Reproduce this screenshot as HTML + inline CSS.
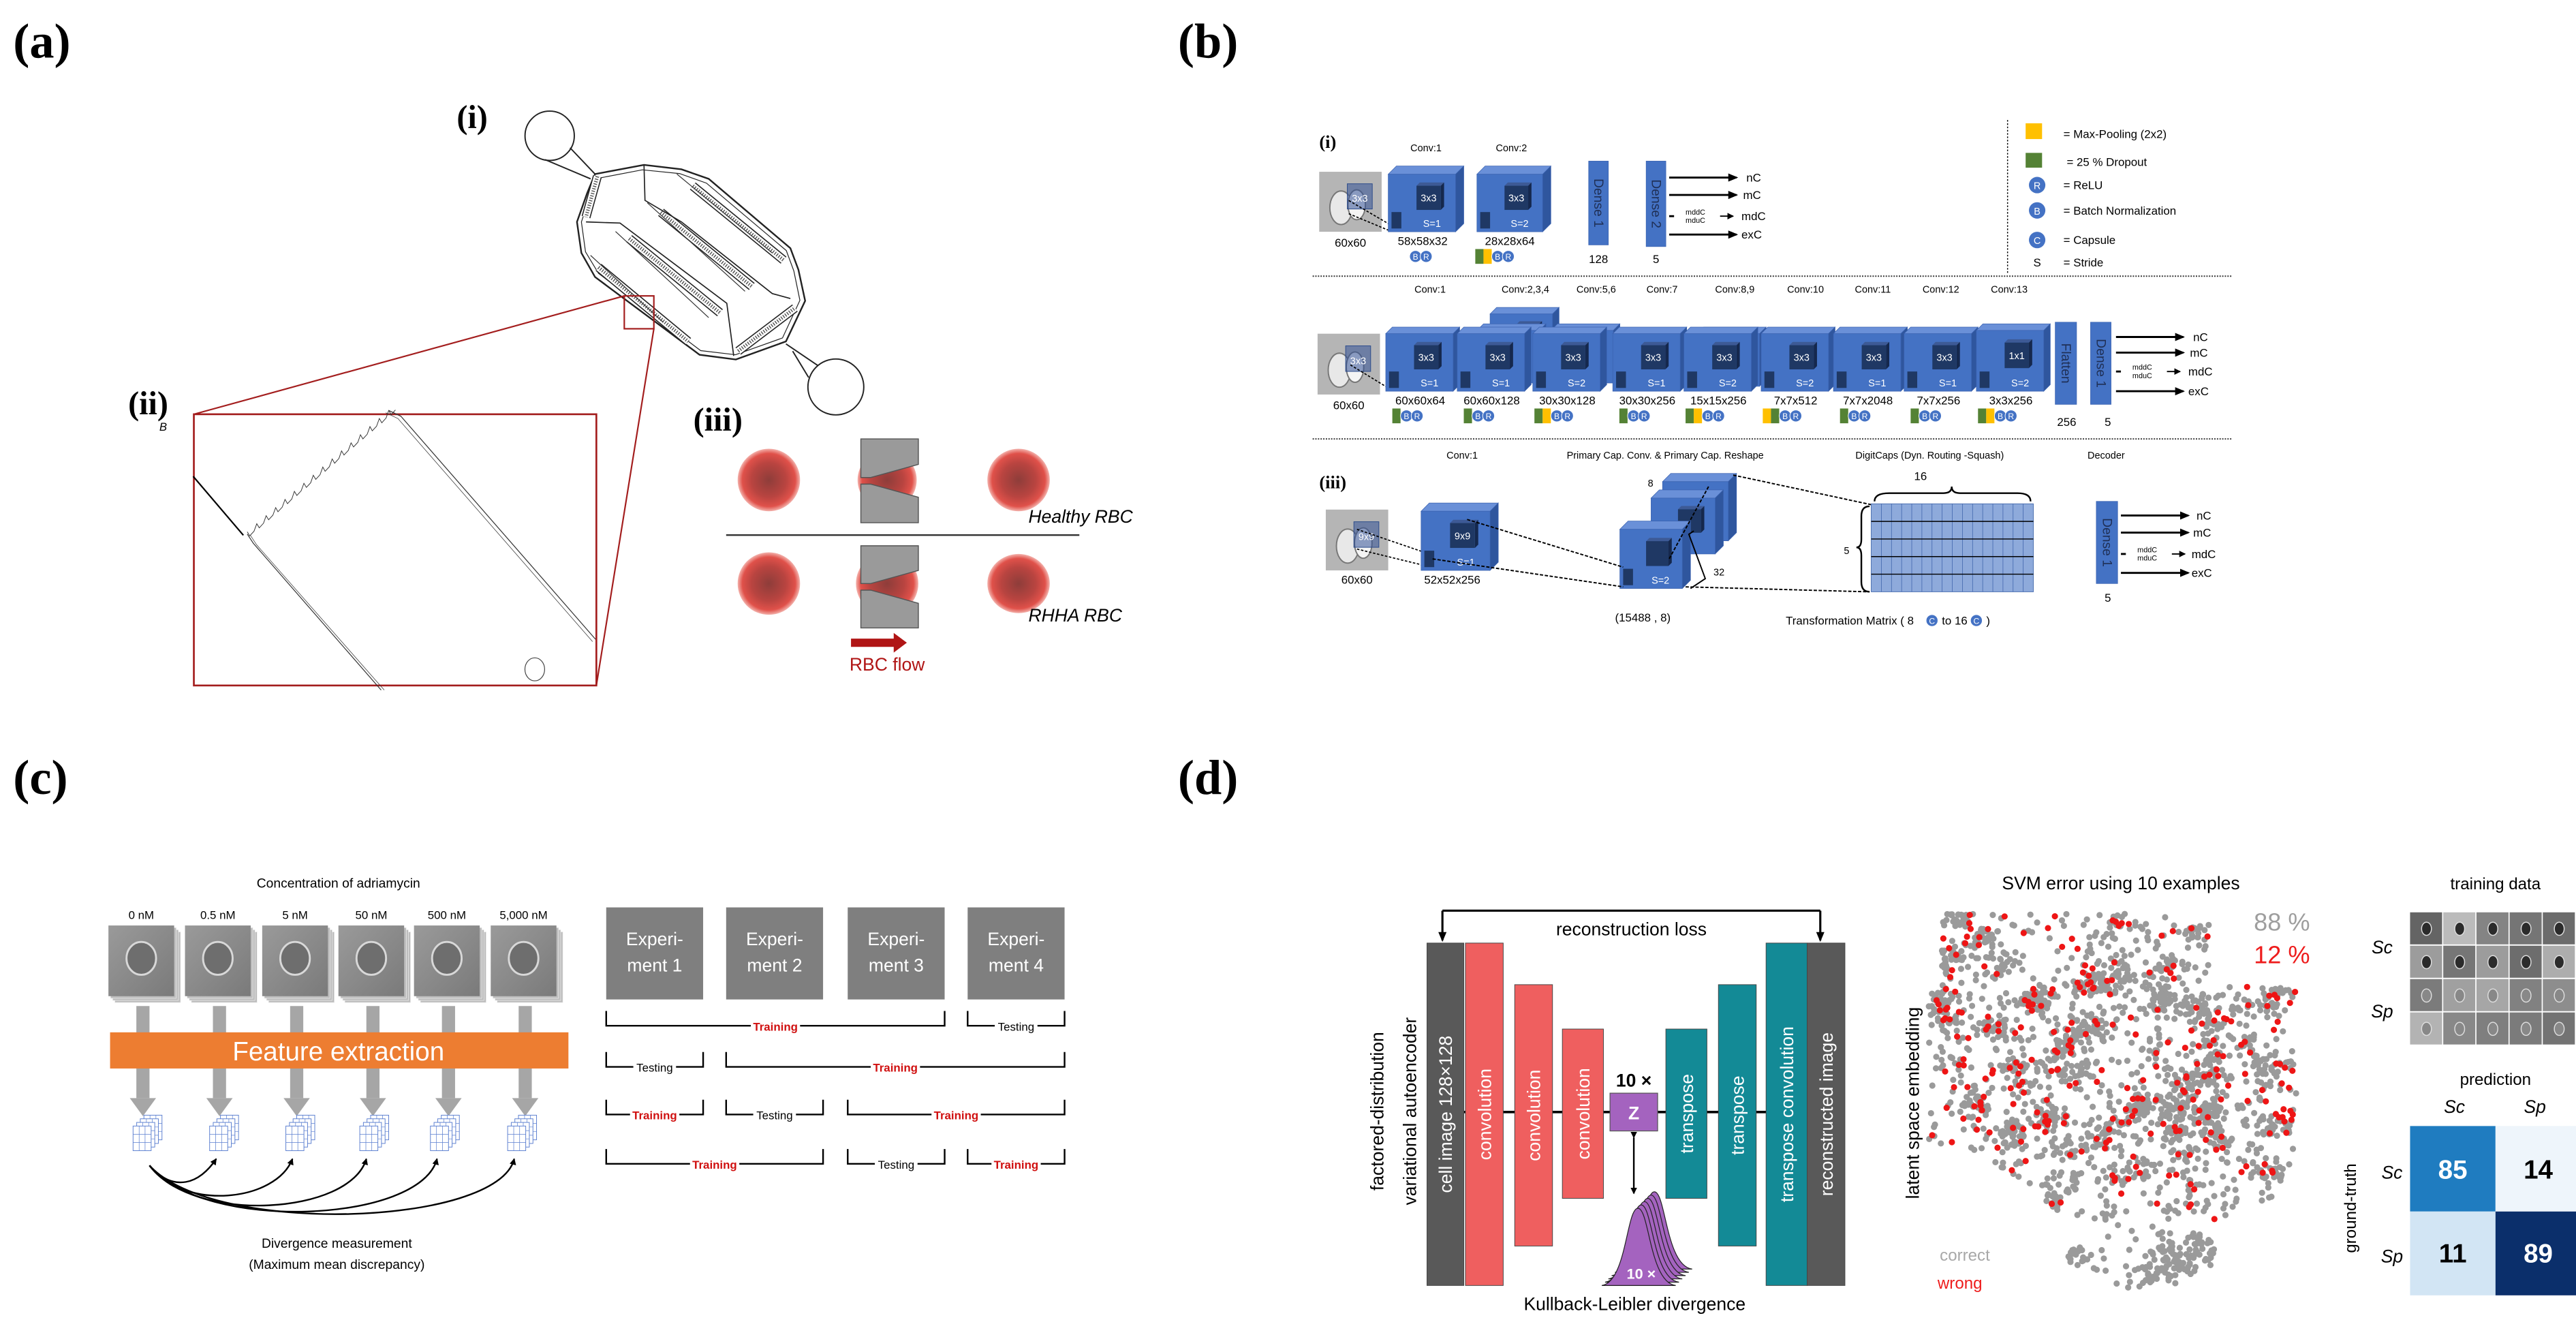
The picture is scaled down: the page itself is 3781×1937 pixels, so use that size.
<!DOCTYPE html>
<html><head><meta charset="utf-8">
<style>
html,body{margin:0;padding:0;background:#fff;}
svg{display:block;}
text{font-family:"Liberation Sans",sans-serif;}
.nar{font-family:"Liberation Sans Narrow","Liberation Sans",sans-serif;}
.ser{font-family:"Liberation Serif",serif;font-weight:bold;}
</style></head>
<body>
<svg id="s" xmlns="http://www.w3.org/2000/svg" width="3781" height="1937" viewBox="0 0 1568 803" preserveAspectRatio="none">
<defs>
<radialGradient id="rbc" cx="50%" cy="50%" r="50%">
<stop offset="0" stop-color="#8e3d3a"/><stop offset="0.55" stop-color="#b94440"/><stop offset="0.85" stop-color="#e0514a"/><stop offset="1" stop-color="#f3b2ac"/>
</radialGradient>
<linearGradient id="cellbg" x1="0" y1="0" x2="1" y2="1"><stop offset="0" stop-color="#9a9a9a"/><stop offset="1" stop-color="#7a7a7a"/></linearGradient>
<marker id="ah" markerWidth="6" markerHeight="6" refX="5" refY="3" orient="auto" markerUnits="userSpaceOnUse"><path d="M0,0.5 L6,3 L0,5.5 z" fill="#000"/></marker>
<marker id="ahs" markerWidth="4" markerHeight="4" refX="3.5" refY="2" orient="auto" markerUnits="userSpaceOnUse"><path d="M0,0 L4,2 L0,4 z" fill="#000"/></marker>
</defs>
<text class="ser" x="8" y="35" font-size="30">(a)</text>
<text class="ser" x="717" y="35" font-size="30">(b)</text>
<text class="ser" x="8" y="483" font-size="30">(c)</text>
<text class="ser" x="717" y="483" font-size="30">(d)</text>
</svg>
<script>
(function(){
var S=document.getElementById('s');var h='';
function T(x,y,s,fs,o){o=o||{};h+='<text x="'+x+'" y="'+y+'" font-size="'+fs+'"'+(o.a?' text-anchor="'+o.a+'"':'')+(o.f?' fill="'+o.f+'"':'')+(o.c?' class="'+o.c+'"':'')+(o.w?' font-weight="'+o.w+'"':'')+(o.i?' font-style="italic"':'')+(o.t?' transform="'+o.t+'"':'')+'>'+s+'</text>';}
function R(x,y,w,hh,f,st,sw){h+='<rect x="'+x+'" y="'+y+'" width="'+w+'" height="'+hh+'" fill="'+f+'"'+(st?' stroke="'+st+'" stroke-width="'+(sw||0.5)+'"':'')+'/>';}
function L(x1,y1,x2,y2,st,sw,ex){h+='<line x1="'+x1+'" y1="'+y1+'" x2="'+x2+'" y2="'+y2+'" stroke="'+(st||'#000')+'" stroke-width="'+(sw||1)+'" '+(ex||'')+'/>';}
function P(pts,f,st,sw,ex){h+='<polygon points="'+pts.map(function(p){return p[0].toFixed(1)+','+p[1].toFixed(1)}).join(' ')+'" fill="'+f+'"'+(st?' stroke="'+st+'" stroke-width="'+(sw||0.5)+'"':'')+' '+(ex||'')+'/>';}
function PL(pts,st,sw,ex){h+='<polyline points="'+pts.map(function(p){return p[0].toFixed(1)+','+p[1].toFixed(1)}).join(' ')+'" fill="none" stroke="'+st+'" stroke-width="'+sw+'" '+(ex||'')+'/>';}
var seed=7;function rnd(){seed=(seed*16807)%2147483647;return seed/2147483647;}
function gs(){return (rnd()+rnd()+rnd()-1.5)/1.5;}

/* ---------- PANEL A ---------- */
function z5(a){return [(800+a[0]/3)/2.411,(150+a[1]/2.85)/2.411];}
function z7(a){return [(200+a[0]/2.24)/2.411,(580+a[1]/2.95)/2.411];}
T(278,78,'(i)',20,{c:'ser'});
var chip=[[220,300],[435,262],[600,280],[720,320],[1080,610],[1115,700],[1145,830],[1060,1000],[840,1075],[680,1055],[220,730],[160,630],[140,500],[185,380]].map(z5);
P(chip,'none','#222',1.0);
P([[232,318],[428,282],[592,298],[710,338],[1062,620],[1095,705],[1122,828],[1045,985],[838,1055],[685,1038],[235,715],[178,625],[160,500],[200,385]].map(z5),'none','#222',0.5);
var st=[[[650,350],[1050,660]],[[510,460],[910,770]],[[370,570],[770,880]],[[235,690],[630,1000]],[[230,310],[180,480]],[[850,1040],[1100,860]]];
st.forEach(function(s){var a=z5(s[0]),b=z5(s[1]);L(a[0],a[1],b[0],b[1],'#222',5.5);L(a[0],a[1],b[0],b[1],'#fff',4.2);L(a[0],a[1],b[0],b[1],'#555',2.2,'stroke-dasharray="0.6,0.9"');});
[[[580,300],[1000,630]],[[450,420],[880,790]],[[310,540],[720,900]],[[200,640],[520,920]]].forEach(function(s){var a=z5(s[0]),b=z5(s[1]);L(a[0],a[1],b[0],b[1],'#333',0.5);});
PL([[435,262],[440,410],[600,500],[1000,800],[1080,820]].map(z5),'#222',0.7);
PL([[180,500],[330,505],[800,840],[830,1060]].map(z5),'#222',0.7);
var c1=z5([20,140]);h+='<circle cx="'+c1[0]+'" cy="'+c1[1]+'" r="15" fill="none" stroke="#222" stroke-width="0.8"/>';
var c2=z5([1280,1190]);h+='<circle cx="'+c2[0]+'" cy="'+c2[1]+'" r="17" fill="none" stroke="#222" stroke-width="0.8"/>';
PL([[110,190],[220,300]].map(z5),'#222',0.8);PL([[0,240],[200,320]].map(z5),'#222',0.8);
PL([[1060,1010],[1200,1100]].map(z5),'#222',0.8);PL([[1090,1040],[1160,1150]].map(z5),'#222',0.8);
R(380,180,18,20,'none','#a31d1d',0.9);
L(380,180,118,252,'#a31d1d',0.9);L(398,200,363,417,'#a31d1d',0.9);
R(118,252,245,165,'none','#a31d1d',1.1);
T(78,252,'(ii)',20,{c:'ser'});T(97,262,'B',7,{i:1});
var a1=z7([187,350]),a2=z7([352,605]);L(a1[0],a1[1],a2[0],a2[1],'#000',0.9);
var tp=[];for(var i=0;i<=15;i++){var t=i/15;var x=365+t*(830-365),y=590+t*(65-590);tp.push([x,y]);tp.push([x+8,y+18]);tp.push([x+22,y-2]);}
PL(tp.map(z7),'#333',0.4);
PL([[830,65],[870,90],[1510,1055]].map(z7),'#333',0.5);PL([[820,75],[860,100],[1500,1065]].map(z7),'#333',0.3);
PL([[365,600],[385,640],[805,1275]].map(z7),'#333',0.5);PL([[375,605],[395,645],[815,1275]].map(z7),'#333',0.3);
var oc=z7([1310,1185]);h+='<ellipse cx="'+oc[0]+'" cy="'+oc[1]+'" rx="6" ry="7" fill="none" stroke="#444" stroke-width="0.5"/>';
T(422,262,'(iii)',20,{c:'ser'});
[[468,292],[620,292],[468,355],[540,355]].forEach(function(p){h+='<circle cx="'+p[0]+'" cy="'+p[1]+'" r="19" fill="url(#rbc)"/>';});
h+='<ellipse cx="620" cy="355" rx="19" ry="18" fill="url(#rbc)"/>';
h+='<circle cx="540" cy="292" r="18" fill="url(#rbc)"/>';
[[267,318],[332,382]].forEach(function(r){var y0=r[0],y1=r[1],m=(y0+y1)/2;
P([[524,y0],[559,y0],[559,m-10],[530,m-2],[524,m-2]],'#9a9a9a','#555',0.6);
P([[524,m+2],[530,m+2],[559,m+10],[559,y1],[524,y1]],'#9a9a9a','#555',0.6);});
L(442,325.5,657,325.5,'#333',1);
T(626,318,'Healthy RBC',11,{i:1,c:'nar'});T(626,378,'RHHA RBC',11,{i:1,c:'nar'});
P([[518,388.5],[544,388.5],[544,385],[552,391],[544,397],[544,393.5],[518,393.5]],'#b01515');
T(540,408,'RBC flow',11,{a:'middle',f:'#b01515',c:'nar'});

/* ---------- PANEL B ---------- */
var BL='#4472c4',BT='#6a90d8',BS='#2f569e',DK='#1f3864';
function box(x,y,w,hh,d,lab,s){
 P([[x,y],[x+d,y-d],[x+w+d,y-d],[x+w,y]],BT,'#3a62b0',0.3);
 P([[x+w,y],[x+w+d,y-d],[x+w+d,y+hh-d],[x+w,y+hh]],BS,'#3a62b0',0.3);
 R(x,y,w,hh,BL,'#3a62b0',0.3);
 var ix=x+w*0.42,iy=y+hh*0.2,iw=w*0.36,ih=hh*0.42;
 P([[ix,iy],[ix+2,iy-2],[ix+iw+2,iy-2],[ix+iw,iy]],'#3d5a96');
 P([[ix+iw,iy],[ix+iw+2,iy-2],[ix+iw+2,iy+ih-2],[ix+iw,iy+ih]],'#15284d');
 R(ix,iy,iw,ih,DK);
 T(ix+iw/2,iy+ih*0.65,lab,6,{a:'middle',f:'#fff',c:'nar'});
 R(x+2,y+hh-12,6,10,DK);
 if(s)T(x+w*0.65,y+hh-3,s,6,{a:'middle',f:'#fff',c:'nar'});
}
function bar(x,y,w,hh,lab){R(x,y,w,hh,BL,'#3a62b0',0.3);T(0,0,lab,8,{t:'translate('+(x+w/2-2.5)+','+(y+hh/2)+') rotate(90)',a:'middle',c:'nar',f:'#1f2f55'});}
function circ(x,y,l){h+='<circle cx="'+x+'" cy="'+y+'" r="3.6" fill="'+BL+'" stroke="#fff" stroke-width="0.4"/>';T(x,y+2,l,5,{a:'middle',f:'#fff',c:'nar'});}
function tags(x,y,arr){arr.forEach(function(t){if(t=='g'){R(x,y-4.5,5,9,'#548235');x+=5;}else if(t=='y'){R(x,y-4.5,5,9,'#ffc000');x+=5;}else{circ(x+3.6,y,t);x+=6.5;}});}
function img(x,y,w,hh,lab){R(x,y,w,hh,'#b5b5b5');h+='<ellipse cx="'+(x+w*0.35)+'" cy="'+(y+hh*0.6)+'" rx="'+(w*0.18)+'" ry="'+(hh*0.28)+'" fill="#e8e8e8" stroke="#777" stroke-width="0.8"/>';h+='<ellipse cx="'+(x+w*0.6)+'" cy="'+(y+hh*0.55)+'" rx="'+(w*0.14)+'" ry="'+(hh*0.25)+'" fill="#f4f4f4" stroke="#777" stroke-width="0.8"/>';
 R(x+w*0.45,y+hh*0.2,w*0.4,hh*0.42,'rgba(50,80,150,0.55)','#2a4a8a',0.4);T(x+w*0.65,y+hh*0.5,lab,6,{a:'middle',f:'#fff',c:'nar'});}
function arrows(x1,x2,ys,lx){L(x1,ys[0],x2,ys[0],'#000',1.2,'marker-end="url(#ah)"');L(x1,ys[1],x2,ys[1],'#000',1.2,'marker-end="url(#ah)"');L(x1,ys[3],x2,ys[3],'#000',1.2,'marker-end="url(#ah)"');
 L(x1,ys[2],x1+3,ys[2],'#000',1.2);T(x1+10,ys[2]-1,'mddC',4.5,{c:'nar'});T(x1+10,ys[2]+4,'mduC',4.5,{c:'nar'});L(x2-10,ys[2],x2-2,ys[2],'#000',0.8,'marker-end="url(#ahs)"');
 T(lx,ys[0]+2.5,'nC',7,{c:'nar'});T(lx-2,ys[1]+2.5,'mC',7,{c:'nar'});T(lx-3,ys[2]+2.5,'mdC',7,{c:'nar'});T(lx-3,ys[3]+2.5,'exC',7,{c:'nar'});}
T(803,90,'(i)',11,{c:'ser'});
img(803,104.5,38,36.5,'3x3');
L(821,122,845,136,'#000',0.7,'stroke-dasharray="1.5,1"');L(821,130,845,140,'#000',0.7,'stroke-dasharray="1.5,1"');
box(845,106,41,35,5,'3x3','S=1');box(899,106,40,35,5,'3x3','S=2');
T(868,92,'Conv:1',6,{a:'middle',c:'nar'});T(920,92,'Conv:2',6,{a:'middle',c:'nar'});
bar(967,98,12,51,'Dense 1');bar(1002,98,12,52,'Dense 2');
arrows(1016,1057,[108,118.6,131.5,142.7],1063);
T(822,150,'60x60',7,{a:'middle',c:'nar'});T(866,149,'58x58x32',7,{a:'middle',c:'nar'});T(919,149,'28x28x64',7,{a:'middle',c:'nar'});
tags(858,156,['B','R']);tags(898,156,['g','y','B','R']);
T(973,160,'128',7,{a:'middle',c:'nar'});T(1008,160,'5',7,{a:'middle',c:'nar'});
L(1222,73,1222,166,'#000',0.6,'stroke-dasharray="1,1"');
R(1233,75,10,9.6,'#ffc000');T(1256,84,'= Max-Pooling (2x2)',7,{c:'nar'});
R(1233,93,10,9,'#548235');T(1258,101,'= 25 % Dropout',7,{c:'nar'});
[[112.6,'R','= ReLU'],[128,'B','= Batch Normalization'],[146,'C','= Capsule']].forEach(function(q){h+='<circle cx="1240" cy="'+q[0]+'" r="5" fill="'+BL+'"/>';T(1240,q[0]+2.5,q[1],6,{a:'middle',f:'#fff',c:'nar'});T(1256,q[0]+2.5,q[2],7,{c:'nar'});});
T(1240,162,'S',7,{a:'middle',c:'nar'});T(1256,162,'= Stride',7,{c:'nar'});
L(799,168,1359,168,'#333',0.8,'stroke-dasharray="0.8,0.8"');
T(803,222,'(ii)',11,{c:'ser'});
img(802,203,38,37,'3x3');
L(822,222,845,236,'#000',0.7,'stroke-dasharray="1.5,1"');
var bx=[[843.5,'3x3','S=1'],[887,'3x3','S=1'],[933,'3x3','S=2'],[981.7,'3x3','S=1'],[1025,'3x3','S=2'],[1072,'3x3','S=2'],[1116,'3x3','S=1'],[1159,'3x3','S=1'],[1203,'1x1','S=2']];
box(907,191,38,32,4,'','');box(899,201,38,32,4,'','');box(944,201,38,32,4,'','');box(1033,203,38,32,4,'','');
bx.forEach(function(b,i){box(b[0],(i==8?201:203),41,(i==8?37:35),4,b[1],b[2]);});
var cl=[[870.5,'Conv:1'],[928.5,'Conv:2,3,4'],[971.6,'Conv:5,6'],[1011.7,'Conv:7'],[1056,'Conv:8,9'],[1099,'Conv:10'],[1140,'Conv:11'],[1181.4,'Conv:12'],[1223,'Conv:13']];
cl.forEach(function(c){T(c[0],178,c[1],6,{a:'middle',c:'nar'});});
bar(1251,196,13,50,'Flatten');bar(1272.5,196,12.5,50,'Dense 1');
arrows(1288,1329,[205,214.5,226,238],1335);
T(821,249,'60x60',7,{a:'middle',c:'nar'});
var sz=['60x60x64','60x60x128','30x30x128','30x30x256','15x15x256','7x7x512','7x7x2048','7x7x256','3x3x256'];
var tg=[['g','B','R'],['g','B','R'],['g','y','B','R'],['g','B','R'],['g','y','B','R'],['y','g','B','R'],['g','B','R'],['g','B','R'],['g','y','B','R']];
bx.forEach(function(b,i){T(b[0]+21,246,sz[i],7,{a:'middle',c:'nar'});tags(b[0]+(tg[i].length==4?1:4),253,tg[i]);});
T(1258,259,'256',7,{a:'middle',c:'nar'});T(1283,259,'5',7,{a:'middle',c:'nar'});
L(799,267,1359,267,'#333',0.8,'stroke-dasharray="0.8,0.8"');
T(803,297,'(iii)',11,{c:'ser'});
T(890,279,'Conv:1',6,{a:'middle',c:'nar'});
T(1013.6,279,'Primary Cap. Conv.  &  Primary Cap. Reshape',6,{a:'middle',c:'nar'});
T(1174.6,279,'DigitCaps (Dyn. Routing -Squash)',6,{a:'middle',c:'nar'});
T(1282,279,'Decoder',6,{a:'middle',c:'nar'});
img(807,310,38,37,'9x9');
L(826,322,867,336,'#000',0.7,'stroke-dasharray="1.5,1"');L(826,334,867,344,'#000',0.7,'stroke-dasharray="1.5,1"');
box(865,311,42,36,5,'9x9','S=1');
T(826,355,'60x60',7,{a:'middle',c:'nar'});T(884,355,'52x52x256',7,{a:'middle',c:'nar'});
box(1012,293,40,36,5,'','');box(1005,303,39,34,5,'','');box(986,322,38,36,5,'','S=2');
L(893,316,988,345,'#000',0.8,'stroke-dasharray="2,1"');L(872,340,988,357,'#000',0.8,'stroke-dasharray="2,1"');
L(1040,296,1016,340,'#000',0.8,'stroke-dasharray="2,1"');
L(1055,289,1139,307,'#000',0.8,'stroke-dasharray="2,1"');L(1026,357,1137,360,'#000',0.8,'stroke-dasharray="2,1"');
T(1003,296,'8',6,{c:'nar'});T(1043,350,'32',6,{c:'nar'});
PL([[1029,358],[1038,352],[1028,325],[1031,323]],'#000',0.8);
R(1139,306.5,98.7,53.5,'#8eaadb','#4a6fb0',0.4);
for(var i=1;i<16;i++){var x=1139+i*98.7/16;L(x,306.5,x,360,'#3a5fa8',0.3);}
for(var j=1;j<5;j++){var y=306.5+j*53.5/5;L(1139,y,1237.7,y,'#000',0.6);}
h+='<path d="M1141,305 Q1141,300 1150,300 L1183,300 Q1188,300 1188,296 Q1188,300 1193,300 L1228,300 Q1236,300 1236,305" fill="none" stroke="#000" stroke-width="1"/>';
h+='<path d="M1138,308 Q1133,308 1133,314 L1133,328 Q1133,333 1130,333 Q1133,333 1133,338 L1133,354 Q1133,360 1138,360" fill="none" stroke="#000" stroke-width="1"/>';
T(1169,292,'16',7,{a:'middle',c:'nar'});T(1124,337,'5',6,{a:'middle',c:'nar'});
T(1000,378,'(15488 , 8)',7,{a:'middle',c:'nar'});
T(1087,380,'Transformation Matrix  ( 8',7,{c:'nar'});circ(1176,377.5,'C');T(1182,380,'to 16',7,{c:'nar'});circ(1203,377.5,'C');T(1209,380,')',7,{c:'nar'});
bar(1276,305,13,50,'Dense 1');
arrows(1291,1332,[313.6,324,337,348.5],1337);
T(1283,366,'5',7,{a:'middle',c:'nar'});

/* ---------- PANEL C ---------- */
T(206,540,'Concentration of adriamycin',8,{a:'middle',c:'nar'});
var cx=[66,112.6,159.6,206,252,298.7],cn=['0 nM','0.5 nM','5 nM','50 nM','500 nM','5,000 nM'];
cx.forEach(function(x,i){T(x+20,559,cn[i],7,{a:'middle',c:'nar'});
 for(var k=3;k>=0;k--){R(x+k*1.3,563+k*1.3,40,43,k?'#bdbdbd':'url(#cellbg)',k?'#eee':null,0.3);}
 h+='<ellipse cx="'+(x+20)+'" cy="583" rx="9" ry="10" fill="#6e6e6e" stroke="#d8d8d8" stroke-width="1.2"/>';
});
cx.forEach(function(x,i){var m=x+21;R(m-4,612,8,56,'#a6a6a6');P([[m-8,668],[m+8,668],[m,679]],'#a6a6a6');});
R(67,628,279,22,'#ed7d31');
T(206,645,'Feature extraction',16,{a:'middle',f:'#fff',c:'nar'});
var cc=[89,135.6,182,227,270,317];
cc.forEach(function(x){for(var k=3;k>=0;k--){var ox=x-8+k*2.2,oy=685-k*2.2;R(ox,oy,11,15,'#fff','#5b7fd0',0.4);L(ox+3.7,oy,ox+3.7,oy+15,'#5b7fd0',0.3);L(ox+7.3,oy,ox+7.3,oy+15,'#5b7fd0',0.3);L(ox,oy+5,ox+11,oy+5,'#5b7fd0',0.3);L(ox,oy+10,ox+11,oy+10,'#5b7fd0',0.3);}});
var dep=[0,718,729,737,742,744];
for(var i=1;i<6;i++){var x2=cc[i]-4;h+='<path d="M91,709 C'+(100+i*6)+','+(dep[i]+8)+' '+(x2-10)+','+(dep[i]+2)+' '+x2+',705" fill="none" stroke="#000" stroke-width="1" marker-end="url(#ahs)"/>';}
T(205,759,'Divergence measurement',8,{a:'middle',c:'nar'});T(205,772,'(Maximum mean discrepancy)',8,{a:'middle',c:'nar'});
var ex=[[369,428],[442,501],[516,575],[589,648]];
ex.forEach(function(e,i){R(e[0],552,e[1]-e[0],56,'#7f7f7f');T((e[0]+e[1])/2,575,'Experi-',11,{a:'middle',f:'#fff',c:'nar'});T((e[0]+e[1])/2,591,'ment '+(i+1),11,{a:'middle',f:'#fff',c:'nar'});});
function br(x1,x2,y,lab,red){var m=(x1+x2)/2,tw=red?30:26;PL([[x1,y-9],[x1,y],[m-tw/2,y]],'#000',1);PL([[m+tw/2,y],[x2,y],[x2,y-9]],'#000',1);T(m,y+3,lab,7,{a:'middle',c:'nar',f:red?'#d01010':'#000',w:red?'bold':null});}
br(369,575,624,'Training',1);br(589,648,624,'Testing');
br(369,428,649,'Testing');br(442,648,649,'Training',1);
br(369,428,678,'Training',1);br(442,501,678,'Testing');br(516,648,678,'Training',1);
br(369,501,708,'Training',1);br(516,575,708,'Testing');br(589,648,708,'Training',1);

/* ---------- PANEL D ---------- */
var y0=573.7,y1=782;
L(878,554,1108,554,'#000',1.3);L(878,554,878,572,'#000',1.3,'marker-end="url(#ah)"');L(1108,554,1108,572,'#000',1.3,'marker-end="url(#ah)"');
T(993,569,'reconstruction loss',11,{a:'middle'});
L(880,676.5,1110,676.5,'#000',1.5);
function vb(x1,x2,ya,yb,f,lab){R(x1,ya,x2-x1,yb-ya,f,'#444',0.4);T(0,0,lab,11,{t:'translate('+((x1+x2)/2+4)+','+((ya+yb)/2)+') rotate(-90)',a:'middle',f:'#fff'});}
vb(868.6,891,y0,y1,'#595959','cell image 128×128');
vb(892,915,y0,y1,'#ef5f5f','convolution');
vb(922,945,599,758,'#ef5f5f','convolution');
vb(951,976,626,729,'#ef5f5f','convolution');
vb(1014,1039,626,729,'#138a96','transpose');
vb(1046,1069,599,758,'#138a96','transpose');
vb(1075,1100,y0,y1,'#138a96','transpose convolution');
vb(1100,1123,y0,y1,'#595959','reconstructed image');
R(980,665,29,23,'#a463bf','#555',0.5);T(994.5,681,'Z',11,{a:'middle',f:'#fff',w:'bold'});
T(994.5,661,'10 ×',11,{a:'middle',w:'bold'});
L(994.5,692,994.5,726,'#000',1,'marker-end="url(#ahs)" marker-start="url(#ahs)"');
for(var k=5;k>=0;k--){var ox=k*2,oy=-k*2;h+='<path d="M'+(975+ox)+','+(782+oy)+' C'+(990+ox)+','+(780+oy)+' '+(990+ox)+','+(735+oy)+' '+(997+ox)+','+(735+oy)+' C'+(1004+ox)+','+(735+oy)+' '+(1004+ox)+','+(780+oy)+' '+(1020+ox)+','+(782+oy)+' Z" fill="#a463bf" stroke="#222" stroke-width="0.5"/>';}
T(999,778,'10 ×',9,{a:'middle',f:'#fff',w:'bold'});
T(995,797,'Kullback-Leibler divergence',11,{a:'middle'});
T(0,0,'factored-distribution',11,{t:'translate(842,676) rotate(-90)',a:'middle'});
T(0,0,'variational autoencoder',11,{t:'translate(862,676) rotate(-90)',a:'middle'});
T(1291,541,'SVM error using 10 examples',11,{a:'middle'});
T(1389,566,'88 %',15,{a:'middle',f:'#9e9e9e'});T(1389,586,'12 %',15,{a:'middle',f:'#ee1c1c'});
T(0,0,'latent space embedding',11,{t:'translate(1168,671) rotate(-90)',a:'middle'});
T(1196,767,'correct',10,{a:'middle',f:'#a8a8a8'});T(1193,784,'wrong',10,{a:'middle',f:'#ee1c1c'});
function inside(x,y){
 if(y>=556&&y<600)return x>1182&&x<1345;
 if(y>=600&&y<700)return x>1174&&x<1398;
 if(y>=700&&y<742)return x>1205+(y-700)*1.3&&x<1398-(y-700)*0.5;
 var dx=(x-1305)/46,dy=(y-764)/20;return dx*dx+dy*dy<1;}
var cls=[];while(cls.length<90){var x=1174+rnd()*230,y=556+rnd()*230;if(inside(x,y))cls.push([x,y]);}
var g='',rd='';var n=0;
while(n<2300){var x,y;if(rnd()<0.6){var c=cls[Math.floor(rnd()*cls.length)];x=c[0]+gs()*15;y=c[1]+gs()*11;}else{x=1174+rnd()*230;y=556+rnd()*230;}
 if(!inside(x,y))continue;n++;var isR=rnd()<0.12&&y<745;
 if(isR)rd+='<circle cx="'+x.toFixed(1)+'" cy="'+y.toFixed(1)+'" r="1.9" fill="#ee1515"/>';else g+='<circle cx="'+x.toFixed(1)+'" cy="'+y.toFixed(1)+'" r="1.9" fill="#9a9a9a"/>';}
h+=g+rd;
T(1519,541,'training data',10,{a:'middle'});
for(var r=0;r<4;r++)for(var c=0;c<5;c++){var v=Math.floor(100+rnd()*90);var col='rgb('+v+','+v+','+v+')';R(1467+c*20.2,555+r*20.3,19.5,19.5,col);h+='<ellipse cx="'+(1477+c*20.2)+'" cy="'+(565+r*20.3)+'" rx="3" ry="4" fill="'+(r<2?'#2b2b2b':'#888')+'" stroke="#ddd" stroke-width="0.6"/>';}
T(1450,580,'Sc',11,{a:'middle',i:1});T(1450,619,'Sp',11,{a:'middle',i:1});
T(1519,660,'prediction',10,{a:'middle'});
T(1494,677,'Sc',11,{a:'middle',i:1});T(1543,677,'Sp',11,{a:'middle',i:1});
R(1467,685,52,52,'#1f7cc0');R(1519,685,52,52,'#eef5fb');R(1467,737,52,51,'#d2e5f4');R(1519,737,52,51,'#0b2f6b');
T(1493,717,'85',16,{a:'middle',f:'#fff',w:'bold'});T(1545,717,'14',16,{a:'middle',w:'bold'});
T(1493,768,'11',16,{a:'middle',w:'bold'});T(1545,768,'89',16,{a:'middle',f:'#fff',w:'bold'});
T(0,0,'ground-truth',10,{t:'translate(1434,735) rotate(-90)',a:'middle'});
T(1456,717,'Sc',11,{a:'middle',i:1});T(1456,768,'Sp',11,{a:'middle',i:1});

S.insertAdjacentHTML('beforeend',h);
})();
</script>
</body></html>
